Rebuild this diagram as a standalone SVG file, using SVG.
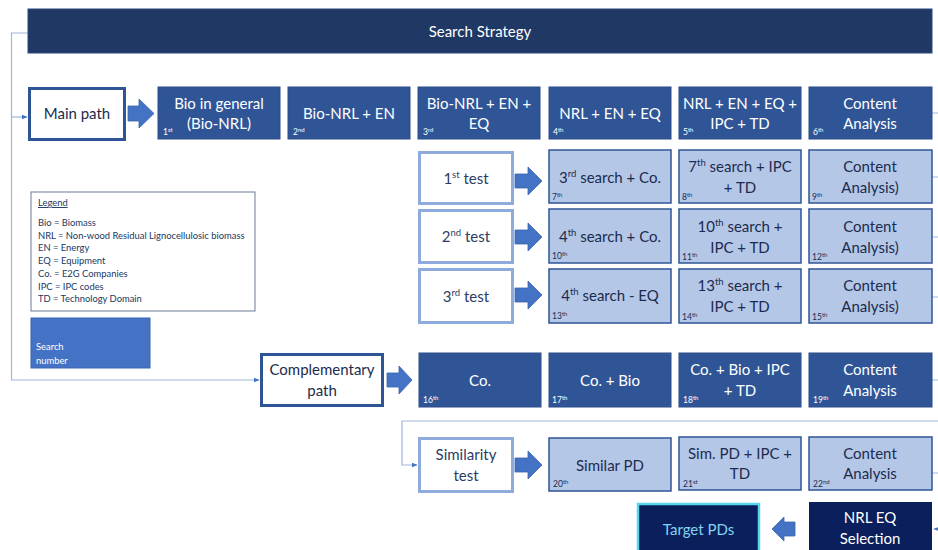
<svg xmlns="http://www.w3.org/2000/svg" width="938" height="550" viewBox="0 0 938 550">
<defs>
<style>
.t{font-family:Lato,"Liberation Sans",sans-serif;font-size:15px;text-anchor:middle}
.w{fill:#ffffff}
.d{fill:#1c2b4f}
.g{fill:#2c3d66}
.o{font-family:Lato,"Liberation Sans",sans-serif;font-size:8.5px}
.s{font-size:6px}
.dark{fill:#2f5597;stroke:#2a4d8a;stroke-width:1}
.light{fill:#b4c7e7;stroke:#2f5597;stroke-width:1.5}
.test{fill:#ffffff;stroke:#8faadc;stroke-width:3}
.main{fill:#ffffff;stroke:#2f5597;stroke-width:3}
.navy{fill:#0a1f5c}
.arr{fill:#4472c4;stroke:#3a64ae;stroke-width:0.8}
.ln{fill:none;stroke:#9fb5dc;stroke-width:1.2}
.lg{font-family:Lato,"Liberation Sans",sans-serif;font-size:9.4px;fill:#203864}
</style>
<marker id="ah" viewBox="0 0 10 10" refX="9" refY="5" markerWidth="5" markerHeight="5" orient="auto"><path d="M0,1 L10,5 L0,9 z" fill="#4472c4"/></marker>
</defs>
<rect width="938" height="550" fill="#ffffff"/>

<g id="connectors">
<path class="ln" d="M28,33 H11.5 V380 H259" marker-end="url(#ah)"/>
<path class="ln" d="M11.5,117 H27" marker-end="url(#ah)"/>
<path class="ln" d="M938,421 H402 V465 H417" marker-end="url(#ah)"/>
<path class="ln" d="M932,113 H938 M932,177 H938 M932,237 H938 M932,297 H938 M932,380 H938 M932,473 H938"/>
<path class="ln" d="M938,529 H934" marker-end="url(#ah)"/>
<polygon class="arr" points="128,106 139,106 139,99 154,113.5 139,128 139,121 128,121"/>
<polygon class="arr" points="515,174 528,174 528,167 542,181 528,195 528,188 515,188"/>
<polygon class="arr" points="515,230 528,230 528,223 542,237 528,251 528,244 515,244"/>
<polygon class="arr" points="515,288 528,288 528,281 542,295 528,309 528,302 515,302"/>
<polygon class="arr" points="387,373 399,373 399,366 412,380 399,394 399,387 387,387"/>
<polygon class="arr" points="515,458 528,458 528,451 542,465 528,479 528,472 515,472"/>
<polygon class="arr" points="795,522 784,522 784,517 772,529 784,541 784,536 795,536"/>
</g>

<g id="header">
<rect x="28" y="9" width="904" height="44" fill="#203864" stroke="#2c4a7e" stroke-width="1"/>
<text class="t w" x="480" y="37">Search Strategy</text>
</g>

<g id="main-path">
<rect class="main" x="29.5" y="88.5" width="95" height="51"/>
<text class="t d" x="77" y="119">Main path</text>
</g>

<g id="s1"><rect class="dark" x="158" y="87" width="122" height="52"/>
<text class="t w" x="219" y="109">Bio in general</text><text class="t w" x="219" y="129">(Bio-NRL)</text>
<text class="o w" x="163" y="135">1<tspan class="s" dy="-3">st</tspan></text></g>
<g id="s2"><rect class="dark" x="288" y="87" width="122" height="52"/>
<text class="t w" x="349" y="119">Bio-NRL + EN</text>
<text class="o w" x="293" y="135">2<tspan class="s" dy="-3">nd</tspan></text></g>
<g id="s3"><rect class="dark" x="418" y="87" width="122" height="52"/>
<text class="t w" x="479" y="109">Bio-NRL + EN +</text><text class="t w" x="479" y="129">EQ</text>
<text class="o w" x="423" y="135">3<tspan class="s" dy="-3">rd</tspan></text></g>
<g id="s4"><rect class="dark" x="549" y="87" width="122" height="52"/>
<text class="t w" x="610" y="119">NRL + EN + EQ</text>
<text class="o w" x="553" y="135">4<tspan class="s" dy="-3">th</tspan></text></g>
<g id="s5"><rect class="dark" x="679" y="87" width="122" height="52"/>
<text class="t w" x="740" y="109">NRL + EN + EQ +</text><text class="t w" x="740" y="129">IPC + TD</text>
<text class="o w" x="683" y="135">5<tspan class="s" dy="-3">th</tspan></text></g>
<g id="s6"><rect class="dark" x="809" y="87" width="123" height="52"/>
<text class="t w" x="870" y="109">Content</text><text class="t w" x="870" y="129">Analysis</text>
<text class="o w" x="813" y="135">6<tspan class="s" dy="-3">th</tspan></text></g>

<g id="test1"><rect class="test" x="419.5" y="152.5" width="93" height="51"/>
<text class="t g" x="466" y="184">1<tspan font-size="9.5" dy="-6">st</tspan><tspan dy="6"> test</tspan></text></g>
<g id="test2"><rect class="test" x="419.5" y="210.5" width="93" height="52"/>
<text class="t g" x="466" y="242">2<tspan font-size="9.5" dy="-6">nd</tspan><tspan dy="6"> test</tspan></text></g>
<g id="test3"><rect class="test" x="419.5" y="269.5" width="93" height="53"/>
<text class="t g" x="466" y="302">3<tspan font-size="9.5" dy="-6">rd</tspan><tspan dy="6"> test</tspan></text></g>

<g id="s7"><rect class="light" x="549" y="150" width="122" height="53"/>
<text class="t d" x="610" y="183">3<tspan font-size="9.5" dy="-6">rd</tspan><tspan dy="6"> search + Co.</tspan></text>
<text class="o d" x="552" y="200">7<tspan class="s" dy="-3">th</tspan></text></g>
<g id="s8"><rect class="light" x="679" y="150" width="122" height="53"/>
<text class="t d" x="740" y="172">7<tspan font-size="9.5" dy="-6">th</tspan><tspan dy="6"> search + IPC</tspan></text><text class="t d" x="740" y="193">+ TD</text>
<text class="o d" x="682" y="200">8<tspan class="s" dy="-3">th</tspan></text></g>
<g id="s9"><rect class="light" x="809" y="150" width="123" height="53"/>
<text class="t d" x="870" y="172">Content</text><text class="t d" x="870" y="193">Analysis)</text>
<text class="o d" x="812" y="200">9<tspan class="s" dy="-3">th</tspan></text></g>

<g id="s10"><rect class="light" x="549" y="209" width="122" height="54"/>
<text class="t d" x="610" y="242">4<tspan font-size="9.5" dy="-6">th</tspan><tspan dy="6"> search + Co.</tspan></text>
<text class="o d" x="552" y="259">10<tspan class="s" dy="-3">th</tspan></text></g>
<g id="s11"><rect class="light" x="679" y="209" width="122" height="54"/>
<text class="t d" x="740" y="232">10<tspan font-size="9.5" dy="-6">th</tspan><tspan dy="6"> search +</tspan></text><text class="t d" x="740" y="253">IPC + TD</text>
<text class="o d" x="682" y="260">11<tspan class="s" dy="-3">th</tspan></text></g>
<g id="s12"><rect class="light" x="809" y="209" width="123" height="54"/>
<text class="t d" x="870" y="232">Content</text><text class="t d" x="870" y="253">Analysis)</text>
<text class="o d" x="812" y="260">12<tspan class="s" dy="-3">th</tspan></text></g>

<g id="s13"><rect class="light" x="549" y="269" width="122" height="54"/>
<text class="t d" x="610" y="301">4<tspan font-size="9.5" dy="-6">th</tspan><tspan dy="6"> search - EQ</tspan></text>
<text class="o d" x="552" y="319">13<tspan class="s" dy="-3">th</tspan></text></g>
<g id="s14"><rect class="light" x="679" y="269" width="122" height="54"/>
<text class="t d" x="740" y="291">13<tspan font-size="9.5" dy="-6">th</tspan><tspan dy="6"> search +</tspan></text><text class="t d" x="740" y="312">IPC + TD</text>
<text class="o d" x="682" y="320">14<tspan class="s" dy="-3">th</tspan></text></g>
<g id="s15"><rect class="light" x="809" y="269" width="123" height="54"/>
<text class="t d" x="870" y="291">Content</text><text class="t d" x="870" y="312">Analysis)</text>
<text class="o d" x="812" y="320">15<tspan class="s" dy="-3">th</tspan></text></g>

<g id="legend">
<rect x="31" y="192" width="224" height="119" fill="#ffffff" stroke="#6c7a96" stroke-width="1"/>
<text class="lg" x="38" y="206" text-decoration="underline">Legend</text>
<text class="lg" x="38" y="226">Bio = Biomass</text>
<text class="lg" x="38" y="239">NRL = Non-wood Residual Lignocellulosic biomass</text>
<text class="lg" x="38" y="251">EN = Energy</text>
<text class="lg" x="38" y="264">EQ = Equipment</text>
<text class="lg" x="38" y="277">Co. = E2G Companies</text>
<text class="lg" x="38" y="290">IPC = IPC codes</text>
<text class="lg" x="38" y="302">TD = Technology Domain</text>
</g>

<g id="search-number">
<rect x="31" y="318" width="119" height="50" fill="#4472c4" stroke="#3a64ae" stroke-width="1"/>
<text class="lg" x="36" y="350" style="fill:#ffffff">Search</text>
<text class="lg" x="36" y="364" style="fill:#ffffff">number</text>
</g>

<g id="complementary-path">
<rect class="main" x="261.5" y="354.5" width="121" height="51"/>
<text class="t d" x="322" y="375">Complementary</text><text class="t d" x="322" y="396">path</text>
</g>

<g id="s16"><rect class="dark" x="419" y="353" width="122" height="54"/>
<text class="t w" x="480" y="386">Co.</text>
<text class="o w" x="423" y="403">16<tspan class="s" dy="-3">th</tspan></text></g>
<g id="s17"><rect class="dark" x="549" y="353" width="122" height="54"/>
<text class="t w" x="610" y="386">Co. + Bio</text>
<text class="o w" x="552" y="403">17<tspan class="s" dy="-3">th</tspan></text></g>
<g id="s18"><rect class="dark" x="679" y="353" width="122" height="54"/>
<text class="t w" x="740" y="375">Co. + Bio + IPC</text><text class="t w" x="740" y="396">+ TD</text>
<text class="o w" x="683" y="403">18<tspan class="s" dy="-3">th</tspan></text></g>
<g id="s19"><rect class="dark" x="809" y="353" width="123" height="54"/>
<text class="t w" x="870" y="375">Content</text><text class="t w" x="870" y="396">Analysis</text>
<text class="o w" x="813" y="403">19<tspan class="s" dy="-3">th</tspan></text></g>

<g id="similarity-test"><rect class="test" x="419.5" y="438.5" width="93" height="53"/>
<text class="t g" x="466" y="460">Similarity</text><text class="t g" x="466" y="481">test</text></g>

<g id="s20"><rect class="light" x="549" y="438" width="122" height="53"/>
<text class="t d" x="610" y="471">Similar PD</text>
<text class="o d" x="553" y="487">20<tspan class="s" dy="-3">th</tspan></text></g>
<g id="s21"><rect class="light" x="679" y="437" width="122" height="53"/>
<text class="t d" x="740" y="459">Sim. PD + IPC +</text><text class="t d" x="740" y="479">TD</text>
<text class="o d" x="683" y="487">21<tspan class="s" dy="-3">st</tspan></text></g>
<g id="s22"><rect class="light" x="809" y="437" width="123" height="53"/>
<text class="t d" x="870" y="459">Content</text><text class="t d" x="870" y="479">Analysis</text>
<text class="o d" x="813" y="487">22<tspan class="s" dy="-3">nd</tspan></text></g>

<g id="target-pds"><rect class="navy" x="638" y="504" width="121" height="52" stroke="#5ad6ea" stroke-width="2.5"/>
<text class="t" x="698.5" y="535" fill="#86d3f0">Target PDs</text></g>
<g id="nrl-eq-selection"><rect class="navy" x="809" y="502" width="123" height="54"/>
<text class="t w" x="870" y="523">NRL EQ</text><text class="t w" x="870" y="544">Selection</text></g>
</svg>
